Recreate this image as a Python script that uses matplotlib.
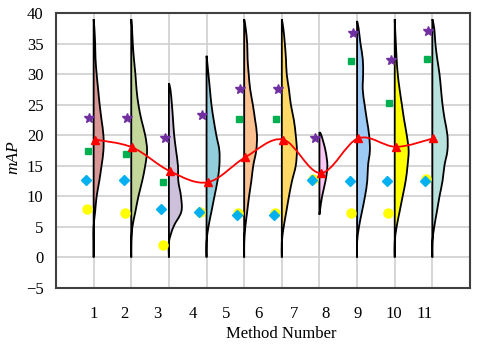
import numpy as np
import matplotlib
matplotlib.use("Agg")
import matplotlib.pyplot as plt
from matplotlib.path import Path
from matplotlib.patches import PathPatch

plt.rcParams['font.family'] = ['Liberation Serif', 'DejaVu Serif']

# ---- data ----
methods = [1, 2, 3, 4, 5, 6, 7, 8, 9, 10]
tick_pos = [1.01, 1.83, 2.68, 3.64, 4.52, 5.37, 6.32, 7.17, 8.01, 8.98, 9.80]
tick_lab = ['1', '2', '3', '4', '5', '6', '7', '8', '9', '10', '11']

# violin half-width profiles (x units) at these mAP levels, nan = outside
y_levels = [0, 2.5, 5, 7.5, 10, 12.5, 15, 17.5, 20, 22.5, 25, 27.5, 30, 32.5, 35, 37.5]
nan = np.nan
violin_w = [
    [0, 0, 0, .04, .08, .15, .21, .26, .26, .21, .16, .12, .08, .05, .04, .02],
    [0, 0, .03, .11, .19, .29, .37, .42, .37, .27, .19, .14, .11, .07, .04, .02],
    [0, 0, .12, .33, .32, .25, .24, .19, .14, .11, .08, .04, nan, nan, nan, nan],
    [0, 0, .05, .13, .21, .29, .34, .34, .26, .19, .13, .09, .05, .01, nan, nan],
    [0, 0, .03, .08, .13, .19, .24, .32, .34, .29, .23, .16, .12, .09, .08, .04],
    [0, 0, .05, .12, .19, .27, .37, .40, .37, .32, .24, .19, .13, .11, .08, .04],
    [nan, nan, nan, .01, .07, .16, .21, .16, .05, nan, nan, nan, nan, nan, nan, nan],
    [0, 0, .05, .13, .21, .27, .29, .34, .32, .26, .20, .15, .16, .15, .09, .04],
    [0, 0, .05, .13, .21, .29, .34, .37, .32, .25, .19, .13, .08, .05, .03, .01],
    [0, 0, .05, .12, .19, .27, .32, .40, .40, .33, .27, .23, .19, .13, .08, .05],
]
violin_bottom = [0, 0, 0, 0, 0, 0, 7, 0, 0, 0]
violin_top = [39, 39, 28.5, 33, 39, 39, 20.5, 38.7, 39, 39]
violin_col = ['#D99694', '#C4D79B', '#CCC0DA', '#92CDDC', '#FAC090',
              '#FFD966', '#F9C8F5', '#9DC9F5', '#FFFF00', '#B7E2DD']

star_v = [22.9, 22.9, 19.5, 23.3, 27.5, 27.5, 19.5, 36.7, 32.3, 37.1]
square_v = [17.4, 16.9, 12.3, nan, 22.6, 22.6, nan, 32.1, 25.3, 32.4]
diamond_v = [12.6, 12.6, 7.9, 7.4, 7.0, 7.0, 12.6, 12.5, 12.5, 12.5]
circle_v = [7.9, 7.2, 2.1, 7.5, 7.2, 7.2, 12.8, 7.3, 7.2, 12.9]
mean_v = [19.3, 18.0, 14.1, 12.3, 16.4, 19.3, 13.8, 19.5, 18.1, 19.5]


def smooth_verts(xs, ys):
    # catmull-rom style bezier segments, like a smoothed Excel line
    p = np.column_stack([xs, ys]).astype(float)
    ext = np.vstack([p[0], p, p[-1]])
    verts = [p[0]]
    for i in range(len(p) - 1):
        p0, p1, p2, p3 = ext[i], ext[i + 1], ext[i + 2], ext[i + 3]
        verts += [p1 + (p2 - p0) / 6, p2 - (p3 - p1) / 6, p2]
    codes = [Path.MOVETO] + [Path.CURVE4] * (len(verts) - 1)
    return verts, codes


fig = plt.figure(figsize=(4.8, 3.44), dpi=100)
ax = fig.add_axes([56 / 480, 1 - 288 / 344, 414 / 480, 275 / 344])

# violins
for i, x0 in enumerate(methods):
    ys = [violin_bottom[i]]
    ws = [0]
    for y, w in zip(y_levels, violin_w[i]):
        if violin_bottom[i] < y < violin_top[i] and not np.isnan(w):
            ys.append(y)
            ws.append(w)
    ys.append(violin_top[i])
    ws.append(0)
    verts, codes = smooth_verts(x0 + np.array(ws), ys)
    verts = verts + [(x0, violin_bottom[i])]
    codes = codes + [Path.CLOSEPOLY]
    ax.add_patch(PathPatch(Path(verts, codes), facecolor=violin_col[i],
                           edgecolor='black', lw=1.3, zorder=3))

m = np.array(methods, dtype=float)
ax.plot(m - 0.11, star_v, '*', color='#7030A0', ms=7.5, zorder=5)
ax.plot(m - 0.15, square_v, 's', color='#00B050', ms=5, zorder=5)
ax.plot(m - 0.17, circle_v, 'o', color='#FFFF00', ms=6.5, zorder=5)
ax.plot(m - 0.20, diamond_v, 'D', color='#00B0F0', ms=4.8, zorder=5)

verts, codes = smooth_verts(m + 0.03, mean_v)
ax.add_patch(PathPatch(Path(verts, codes), facecolor='none',
                       edgecolor='#FF0000', lw=1.3, zorder=6))
ax.plot(m + 0.03, mean_v, '^', color='#FF0000', ms=6, zorder=7)

ax.set_xlim(0, 11)
ax.set_ylim(-5, 40)
ax.set_yticks(np.arange(-5, 41, 5))
ax.set_xticks(range(1, 11))
ax.set_xticklabels([])
ax.set_xticks(tick_pos, tick_lab, minor=True)
ax.tick_params(axis='x', which='both', length=0, labelsize=12, pad=13)
ax.tick_params(axis='y', length=0, labelsize=12, pad=9)
ax.grid(True, color='#D0D0D0', lw=1.2, zorder=0)
ax.set_axisbelow(True)
for s in ax.spines.values():
    s.set_color('#404040')
    s.set_linewidth(1.5)

fig.text(281 / 480, 1 - 334 / 344, 'Method Number', ha='center', va='center', fontsize=12)
fig.text(13 / 480, 1 - 157 / 344, 'mAP', ha='center', va='center', rotation=90,
         fontsize=12.5, style='italic')

fig.savefig('out.png', dpi=100)
